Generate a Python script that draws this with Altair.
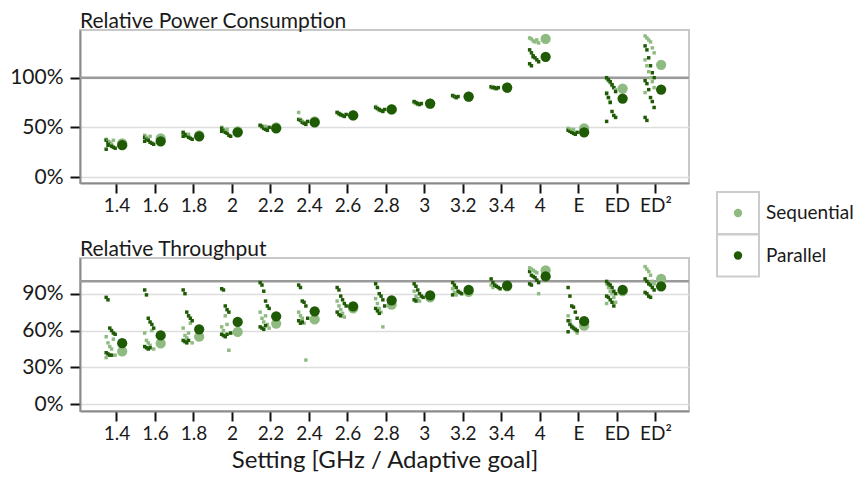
import altair as alt
import pandas as pd

categories = ["1.4", "1.6", "1.8", "2", "2.2", "2.4", "2.6", "2.8", "3", "3.2", "3.4", "4", "E", "ED", "ED²"]
series_names = ["Sequential", "Parallel"]
series_colors = ["#8fbb82", "#1f5a05"]

# ---- Relative Power Consumption (%) ----
power_seq_mean = [34, 39, 42, 46, 50, 56, 62, 68, 74, 81, 90, 139, 49, 89, 113]
power_par_mean = [32, 36, 41, 45, 49, 55, 62, 68, 74, 81, 90, 121, 45, 79, 88]
power_seq_raw = [
    [38, 36, 35, 33, 37],
    [42, 40, 38, 41],
    [44, 42, 41, 43],
    [50, 47, 46, 48],
    [52, 50, 49, 51],
    [65, 58, 56, 55],
    [65, 63, 62],
    [71, 69, 67],
    [75, 74, 73],
    [82, 81, 80],
    [90, 91, 89],
    [140, 139, 137, 136, 138, 135],
    [49, 48, 47, 48],
    [99, 97, 95, 92, 90, 88, 85, 80, 76],
    [142, 140, 138, 136, 130, 125, 118, 112, 106, 100, 96, 90, 85],
]
power_par_raw = [
    [37, 35, 33, 31, 30, 29, 28, 32],
    [40, 38, 37, 35, 34, 33, 36],
    [45, 43, 42, 40, 39, 38, 41],
    [49, 47, 45, 44, 42, 41, 46],
    [52, 51, 49, 48, 47, 50],
    [58, 57, 55, 54, 53, 56],
    [65, 64, 63, 62, 61, 63],
    [70, 69, 68, 67, 66, 68],
    [76, 75, 74, 73, 74],
    [82, 81, 80, 81],
    [91, 90, 90, 89, 90],
    [128, 125, 122, 120, 118, 116, 114, 112, 121],
    [47, 46, 45, 44, 43, 45],
    [100, 98, 96, 93, 90, 86, 84, 80, 75, 66, 62, 60, 56],
    [132, 128, 120, 112, 105, 100, 97, 94, 88, 80, 76, 70, 60, 57],
]

# ---- Relative Throughput (%) ----
tput_seq_mean = [43, 49.5, 55, 59, 65.7, 69, 78, 81, 87, 91.5, 96, 109, 64, 92, 102]
tput_par_mean = [49.7, 56, 61, 67, 71.6, 75.7, 79.7, 84.6, 88.6, 93, 96.5, 104, 67.6, 93, 96]
tput_seq_raw = [
    [55, 50, 47, 45, 53, 40, 38],
    [58, 52, 50, 48, 60, 45],
    [62, 56, 54, 58, 66, 50],
    [63, 60, 72, 65, 44, 58],
    [75, 70, 67, 72, 65, 62],
    [75, 72, 70, 66, 36],
    [84, 80, 77, 74, 71],
    [86, 82, 78, 75, 63],
    [92, 88, 86, 84],
    [94, 91, 89],
    [97, 95],
    [111, 110, 109, 108, 107, 90],
    [72, 68, 64, 62, 60, 58],
    [98, 95, 92, 90, 87, 83, 82],
    [112, 110, 108, 105, 100, 98],
]
tput_par_raw = [
    [87, 85, 62, 60, 58, 57, 42, 41, 40, 40],
    [93, 89, 70, 67, 65, 62, 47, 46, 45, 46],
    [93, 90, 75, 72, 70, 68, 52, 51, 50, 52],
    [94, 93, 80, 77, 75, 58, 57, 56, 55, 57],
    [99, 97, 92, 84, 80, 78, 63, 62, 61, 64],
    [97, 95, 84, 83, 80, 70, 68, 66, 67],
    [95, 93, 88, 85, 82, 80, 75, 73, 72],
    [98, 95, 90, 88, 85, 80, 78, 76, 74],
    [98, 96, 93, 90, 88, 87, 85, 84],
    [99, 97, 95, 92, 91, 90, 89],
    [102, 99, 97, 96, 95, 94],
    [108, 105, 104, 103, 101, 99, 98, 97],
    [95, 88, 80, 79, 75, 70, 68, 65, 63, 62, 61, 60, 59],
    [100, 98, 97, 95, 92, 90, 88, 87, 85, 83, 80],
    [102, 100, 98, 97, 95, 93, 91, 90, 88, 87],
]

FONT = "Lato"
color_scale = alt.Scale(domain=series_names, range=series_colors)


def raw_frame(seq_raw, par_raw):
    rows = []
    for name, raw in (("Sequential", seq_raw), ("Parallel", par_raw)):
        for cat, vals in zip(categories, raw):
            for k, v in enumerate(vals):
                rows.append({"cat": cat, "series": name, "value": v, "run": k})
    return pd.DataFrame(rows)


def mean_frame(seq_mean, par_mean):
    rows = []
    for name, means in (("Sequential", seq_mean), ("Parallel", par_mean)):
        for cat, v in zip(categories, means):
            rows.append({"cat": cat, "series": name, "value": v})
    return pd.DataFrame(rows)


def panel(title, seq_raw, par_raw, seq_mean, par_mean, ydomain, yticks, xtitle):
    xscale = alt.Scale(type="band", domain=categories, paddingInner=0, paddingOuter=0.41, align=0.56)
    xaxis = alt.Axis(labelAngle=0, bandPosition=0.5, grid=False, title=xtitle,
                     labelPadding=3, titlePadding=5, titleFontSize=24)
    yscale = alt.Scale(domain=ydomain, nice=False, zero=False)
    yaxis = alt.Axis(values=yticks, labelExpr="datum.value + '%'", title=None,
                     grid=True, gridColor="#dddddd", gridWidth=1.5, labelPadding=7,
                     labelFontSize=21)
    raw = alt.Chart(raw_frame(seq_raw, par_raw)).transform_calculate(
        jit="datum.run % 6"
    ).mark_square(size=12, opacity=1).encode(
        x=alt.X("cat:N", scale=xscale, axis=xaxis, sort=categories),
        xOffset=alt.XOffset("jit:Q", scale=alt.Scale(domain=[0, 5], range=[8.5, 17.5])),
        y=alt.Y("value:Q", scale=yscale, axis=yaxis),
        color=alt.Color("series:N", scale=color_scale, legend=None),
        order=alt.Order("run:Q"),
    )
    means = alt.Chart(mean_frame(seq_mean, par_mean)).mark_circle(size=105, opacity=1).encode(
        x=alt.X("cat:N", scale=xscale, axis=xaxis, sort=categories),
        xOffset=alt.value(24.5),
        y=alt.Y("value:Q", scale=yscale, axis=yaxis),
        color=alt.Color("series:N", scale=color_scale, legend=None),
    )
    ref = alt.Chart(pd.DataFrame({"ref": [100]})).mark_rule(color="#9a9a9a", strokeWidth=2.5).encode(
        y=alt.Y("ref:Q", scale=yscale, axis=yaxis)
    )
    return alt.layer(ref, raw, means).properties(
        width=609, height=153,
        title=alt.TitleParams(title, anchor="start", frame="group", fontSize=21, font=FONT,
                              fontWeight="normal", color="#1a1a1a", offset=-2),
    )


top = panel("Relative Power Consumption", power_seq_raw, power_par_raw,
            power_seq_mean, power_par_mean, [-6, 148], [0, 50, 100], None)
bottom = panel("Relative Throughput", tput_seq_raw, tput_par_raw,
               tput_seq_mean, tput_par_mean, [-5.4, 119], [0, 30, 60, 90],
               "Setting [GHz / Adaptive goal]")

legend_df = pd.DataFrame({"series": series_names})
leg_y = alt.Y("series:N", sort=series_names,
              scale=alt.Scale(type="point", domain=series_names, range=[183, 225.5], padding=0),
              axis=None)
box = alt.Chart(legend_df).mark_square(size=1764, fill="white", stroke="#cccccc",
                                       strokeWidth=2, opacity=1).encode(x=alt.value(38), y=leg_y)
dot = alt.Chart(legend_df).mark_circle(size=70, opacity=1).encode(
    x=alt.value(38), y=leg_y,
    color=alt.Color("series:N", scale=color_scale, legend=None))
txt = alt.Chart(legend_df).mark_text(align="left", baseline="middle", fontSize=19,
                                     font=FONT, color="#1a1a1a").encode(
    x=alt.value(66), y=leg_y, text="series:N")
legend_chart = alt.layer(box, dot, txt).properties(
    width=100, height=300, view=alt.ViewBackground(stroke=None))

chart = alt.hconcat(
    alt.vconcat(top, bottom, spacing=22),
    legend_chart,
    spacing=8,
).properties(
    padding={"left": 0, "top": 2, "right": 0, "bottom": 0}
).configure_view(stroke="#c8c8c8", strokeWidth=2).configure_axis(
    labelFont=FONT, titleFont=FONT, labelFontSize=19, titleFontSize=24,
    titleFontWeight="normal", labelColor="#1a1a1a", titleColor="#1a1a1a",
    domainColor="#8a8a8a", domainWidth=2, tickColor="#111111", tickWidth=2, tickSize=10,
)

chart.save("out.html", embed_options={"renderer": "svg", "actions": False})
